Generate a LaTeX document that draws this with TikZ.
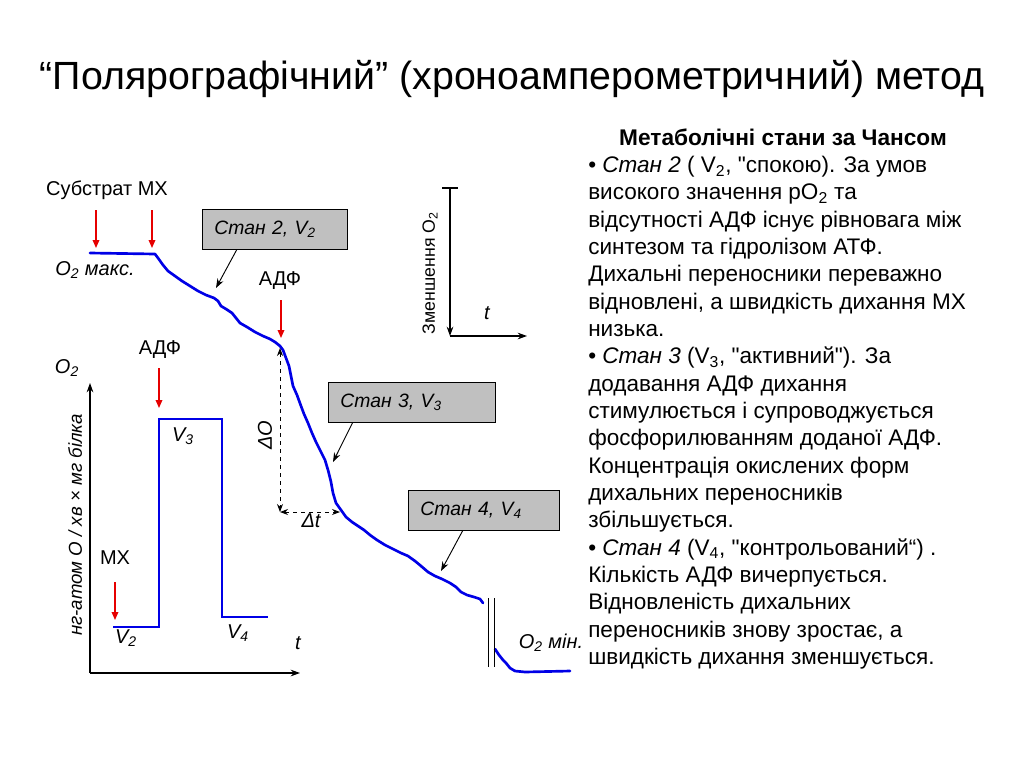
\documentclass[tikz,border=0pt]{standalone}
\usepackage{fontspec}
\setmainfont{Liberation Sans}
\usetikzlibrary{arrows.meta}

\definecolor{traceblue}{RGB}{0,0,230}
\definecolor{addred}{RGB}{230,0,0}
\definecolor{boxgray}{RGB}{192,192,192}

\tikzset{
  trace/.style={draw=traceblue, line width=2pt, line join=round, line cap=round},
  addarrow/.style={draw=addred, line width=0.9pt, -{Triangle[length=6pt,width=5pt]}},
  callout/.style={draw=black, line width=0.7pt, -{Stealth[length=7pt,width=5pt]}},
  measure/.style={draw=black, line width=0.7pt, dashed, {Stealth[length=6pt,width=4.5pt]}-{Stealth[length=6pt,width=4.5pt]}},
  axisline/.style={draw=black, line width=0.8pt, -{Stealth[length=7pt,width=5pt]}},
  statebox/.style={draw=black, line width=0.6pt, fill=boxgray, anchor=north west, inner xsep=9pt, inner ysep=0pt, minimum height=30pt, align=left, font=\fontsize{14.5}{17}\selectfont\itshape},
  lbl/.style={inner sep=0.75pt, font=\fontsize{15}{17}\selectfont},
  ilbl/.style={inner sep=0.75pt, font=\fontsize{15}{17}\selectfont\itshape},
}

\begin{document}
\begin{tikzpicture}[x=0.75pt,y=0.75pt,yscale=-1,xscale=1]
\useasboundingbox (0,0) rectangle (1024,768);

% Title
\draw (512,79) node (title) [inner sep=0.75pt, font=\fontsize{29.5}{34}\selectfont] {“Полярографічний” (хроноамперометричний) метод};

% Oxygen trace, upper part
\draw [trace] (90,253) -- (155,254) -- (158,258) -- (163,265) -- (168,271) -- (175,276) -- (182,281) -- (190,286) -- (198,291) -- (206,295) -- (214,298) -- (218,301) -- (221,306) -- (226,309) -- (232,313) -- (236,318) -- (240,323) -- (247,327) -- (255,332) -- (263,336) -- (270,339) -- (275,342) -- (280,346) -- (283,350) -- (286,358) -- (289,366) -- (291,376) -- (293,386) -- (297,395) -- (301,406) -- (304,414) -- (308,423) -- (312,433) -- (316,442) -- (320,450) -- (325,460) -- (328,470) -- (331,482) -- (333,493) -- (336,503) -- (341,510) -- (346,517) -- (352,522) -- (358,526) -- (364,530) -- (370,535) -- (377,540) -- (385,545) -- (393,549) -- (401,553) -- (408,556) -- (415,561) -- (421,566) -- (428,572) -- (435,576) -- (442,579) -- (450,583) -- (456,587) -- (461,592) -- (467,595) -- (474,597) -- (480,599) -- (483,603) ;
% Oxygen trace, after the break
\draw [trace] (495,649) -- (499,655) -- (503,660) -- (506,663) -- (510,668) -- (515,671) -- (525,672) -- (570,671) ;
% Break marks
\draw [line width=0.7pt] (488,598) -- (488,667) ;
\draw [line width=0.7pt] (494,598) -- (494,667) ;

% Additions
\draw (107,190) node (substr) [lbl] {Субстрат МХ};
\coordinate (substrA) at (96,248);
\coordinate (substrB) at (152,248);
\draw [addarrow] (96,210) -- (substrA) ;
\draw [addarrow] (152,210) -- (substrB) ;
\draw (95,270) node (o2max) [ilbl] {O\textsubscript{2} макс.};
\draw (280,281) node (adpA) [lbl] {АДФ};
\coordinate (adpAtip) at (281,338);
\draw [addarrow] (281,300) -- (adpAtip) ;
\draw (551,643) node (o2min) [ilbl] {O\textsubscript{2} мін.};

% State boxes
\draw (202,209) node (stateII) [statebox, text width=91pt] {Стан 2, V\textsubscript{2}};
\draw (328,382) node (stateIII) [statebox, text width=107pt] {Стан 3, V\textsubscript{3}};
\draw (408,490) node (stateIV) [statebox, text width=95pt] {Стан 4, V\textsubscript{4}};
\coordinate (stateIItip) at (216,288);
\coordinate (stateIIItip) at (333,462);
\coordinate (stateIVtip) at (441,571);
\draw [callout] (stateII.208) -- (stateIItip) ;
\draw [callout] (stateIII.199) -- (stateIIItip) ;
\draw [callout] (stateIV.224) -- (stateIVtip) ;

% Rate measurement
\coordinate (dtop) at (280,348);
\coordinate (dcorner) at (280,512);
\coordinate (dright) at (340,512);
\draw [measure] (dtop) -- (dcorner) ;
\draw [measure] (dcorner) -- (dright) ;
\draw (265,435) node (dO) [ilbl, rotate=90] {ΔO};
\draw (311,521) node (dt) [ilbl] {Δt};

% Small axes
\coordinate (saxtop) at (450,188);
\coordinate (saxorig) at (450,336);
\coordinate (saxend) at (527,336);
\draw [line width=0.8pt] (442,188) -- (458,188) ;
\draw [axisline] (saxtop) -- (saxorig) ;
\draw [axisline] (saxorig) -- (saxend) ;
\draw (430,273) node (decr) [lbl, rotate=90, font=\fontsize{13.3}{15}\selectfont] {Зменшення O\textsubscript{2}};
\draw (487,313) node (saxt) [ilbl] {t};

% Rate chart
\coordinate (lorig) at (90,673);
\coordinate (ltop) at (90,383);
\coordinate (lend) at (300,673);
\draw [axisline] (lorig) -- (ltop) ;
\draw [axisline] (lorig) -- (lend) ;
\draw [trace, line width=2.2pt, line cap=butt, line join=miter] (113,627) -- (159,627) -- (159,419) -- (222,419) -- (222,617) -- (268,617) ;
\draw (67,368) node (lo2) [ilbl] {O\textsubscript{2}};
\draw (75,525) node (lunit) [ilbl, rotate=90, font=\fontsize{14}{16}\selectfont\itshape] {нг-атом О / хв × мг білка};
\draw (160,350) node (adpB) [lbl] {АДФ};
\coordinate (adpBtip) at (159,408);
\draw [addarrow] (159,368) -- (adpBtip) ;
\draw (115,558) node (mito) [lbl] {МХ};
\coordinate (mitotip) at (115,620);
\draw [addarrow] (115,582) -- (mitotip) ;
\draw (183,436) node (vIII) [ilbl] {V\textsubscript{3}};
\draw (126,638) node (vII) [ilbl] {V\textsubscript{2}};
\draw (238,633) node (vIV) [ilbl] {V\textsubscript{4}};
\draw (298,643) node (lt) [ilbl] {t};

% Notes on the right
\draw (783,137) node (notehead) [inner sep=0.75pt, font=\fontsize{17}{20.5}\selectfont\bfseries] {Метаболічні стани за Чансом};
\draw (588,156) node (notes) [anchor=north west, inner sep=0pt, align=left, font=\fontsize{16.9}{20.5}\selectfont] {%
• \textit{Стан 2} ( V\textsubscript{2}, \textquotedbl спокою). За умов\\
високого значення pO\textsubscript{2} та\\
відсутності АДФ існує рівновага між\\
синтезом та гідролізом АТФ.\\
Дихальні переносники переважно\\
відновлені, а швидкість дихання МХ\\
низька.\\
• \textit{Стан 3} (V\textsubscript{3}, \textquotedbl активний\textquotedbl). За\\
додавання АДФ дихання\\
стимулюється і супроводжується\\
фосфорилюванням доданої АДФ.\\
Концентрація окислених форм\\
дихальних переносників\\
збільшується.\\
• \textit{Стан 4} (V\textsubscript{4}, \textquotedbl контрольований“) .\\
Кількість АДФ вичерпується.\\
Відновленість дихальних\\
переносників знову зростає, а\\
швидкість дихання зменшується.};

\end{tikzpicture}
\end{document}
